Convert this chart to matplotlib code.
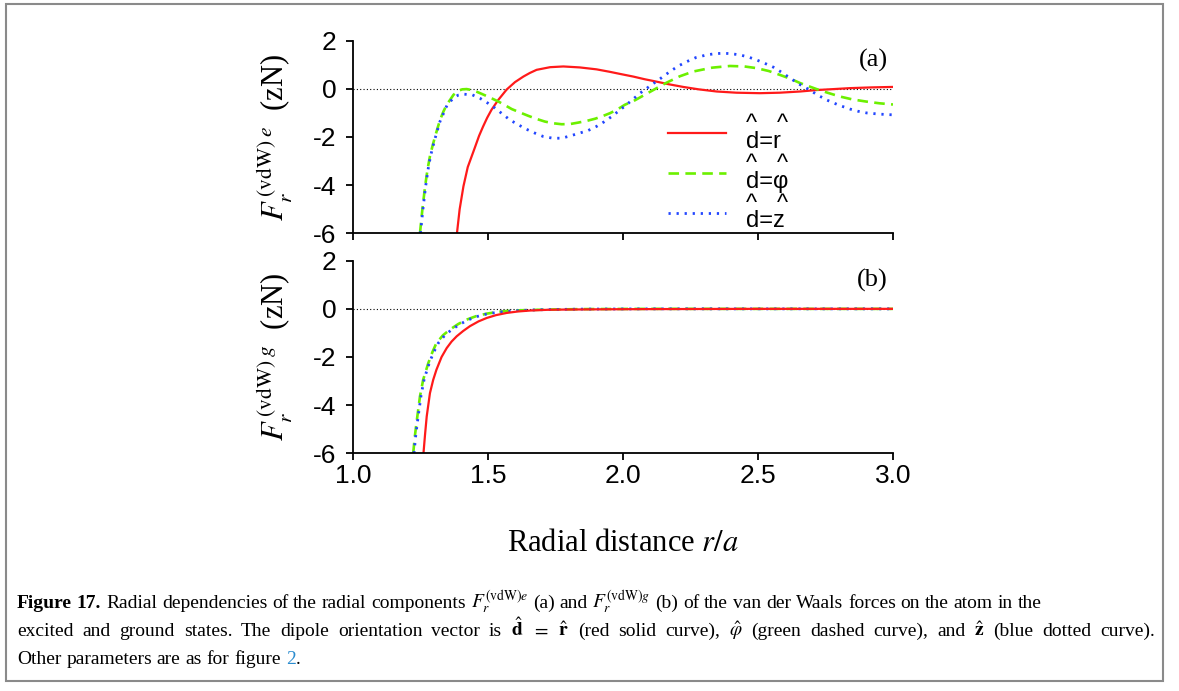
import matplotlib
matplotlib.use('Agg')
import matplotlib.pyplot as plt
from matplotlib.patches import Rectangle

plt.rcParams['mathtext.fontset'] = 'stix'
plt.rcParams['axes.unicode_minus'] = False

# ---- data (r/a, force in zN) ----
# panel (a): excited state
xe_r = [1.385, 1.395, 1.409, 1.425, 1.451, 1.467, 1.482, 1.497, 1.513, 1.538, 1.569, 1.60,
        1.631, 1.655, 1.68, 1.73, 1.779, 1.84, 1.902, 1.95, 1.989, 2.038, 2.08, 2.124, 2.17,
        2.223, 2.28, 2.347, 2.42, 2.507, 2.58, 2.656, 2.717, 2.78, 2.841, 2.92, 3.0]
ye_r = [-6.0, -5.0, -4.05, -3.25, -2.45, -1.95, -1.56, -1.2, -0.87, -0.46, -0.03, 0.28,
        0.51, 0.66, 0.79, 0.9, 0.93, 0.89, 0.81, 0.71, 0.62, 0.51, 0.4, 0.30, 0.19,
        0.08, -0.02, -0.11, -0.16, -0.18, -0.16, -0.11, -0.05, -0.01, 0.03, 0.06, 0.08]

xe_phi = [1.248, 1.257, 1.267, 1.276, 1.285, 1.295, 1.304, 1.322, 1.335, 1.347, 1.36, 1.372,
          1.39, 1.405, 1.421, 1.44, 1.458, 1.477, 1.507, 1.539, 1.563, 1.588, 1.618, 1.649,
          1.68, 1.711, 1.742, 1.773, 1.805, 1.835, 1.866, 1.897, 1.925, 1.952, 1.98, 2.007,
          2.04, 2.08, 2.12, 2.162, 2.21, 2.26, 2.33, 2.396, 2.45, 2.495, 2.54, 2.581, 2.62,
          2.656, 2.69, 2.717, 2.76, 2.804, 2.85, 2.902, 2.95, 3.0]
ye_phi = [-6.0, -5.0, -4.05, -3.35, -2.8, -2.35, -1.98, -1.3, -0.94, -0.66, -0.45, -0.25,
          -0.08, -0.02, -0.01, -0.05, -0.12, -0.21, -0.36, -0.53, -0.68, -0.84, -0.98, -1.12,
          -1.25, -1.36, -1.43, -1.47, -1.46, -1.4, -1.33, -1.24, -1.13, -1.01, -0.85, -0.66,
          -0.5, -0.25, 0.0, 0.26, 0.52, 0.72, 0.88, 0.95, 0.93, 0.86, 0.74, 0.58, 0.42,
          0.24, 0.1, -0.01, -0.17, -0.32, -0.44, -0.53, -0.6, -0.65]

xe_z = [1.250, 1.259, 1.269, 1.278, 1.287, 1.297, 1.306, 1.322, 1.349, 1.374, 1.39, 1.409,
        1.442, 1.47, 1.499, 1.526, 1.553, 1.581, 1.612, 1.641, 1.674, 1.705, 1.74, 1.773,
        1.806, 1.838, 1.869, 1.902, 1.93, 1.958, 1.985, 2.01, 2.035, 2.063, 2.1, 2.14,
        2.174, 2.205, 2.236, 2.27, 2.31, 2.34, 2.372, 2.40, 2.433, 2.465, 2.495, 2.525,
        2.557, 2.59, 2.625, 2.655, 2.686, 2.72, 2.754, 2.8, 2.841, 2.87, 2.902, 2.95, 3.0]
ye_z = [-6.0, -5.0, -4.05, -3.35, -2.8, -2.35, -1.98, -1.36, -0.66, -0.36, -0.26, -0.22,
        -0.25, -0.39, -0.59, -0.8, -1.04, -1.29, -1.49, -1.67, -1.84, -1.98, -2.05, -2.05,
        -1.95, -1.84, -1.74, -1.56, -1.37, -1.15, -0.91, -0.69, -0.45, -0.18, 0.12, 0.44,
        0.72, 0.95, 1.13, 1.3, 1.41, 1.46, 1.48, 1.46, 1.41, 1.32, 1.2, 1.06,
        0.9, 0.67, 0.4, 0.18, -0.01, -0.25, -0.46, -0.68, -0.84, -0.93, -1.0, -1.05, -1.08]

# panel (b): ground state
xg_r = [1.261, 1.267, 1.273, 1.285, 1.297, 1.309, 1.328, 1.347, 1.365, 1.384, 1.408, 1.433,
        1.465, 1.495, 1.53, 1.569, 1.61, 1.656, 1.72, 1.78, 1.9, 2.1, 2.5, 3.0]
yg_r = [-6.0, -5.2, -4.47, -3.5, -2.95, -2.53, -2.0, -1.63, -1.36, -1.14, -0.92, -0.72,
        -0.52, -0.38, -0.26, -0.17, -0.11, -0.07, -0.04, -0.03, -0.02, -0.01, 0.0, 0.0]

xg_phi = [1.223, 1.229, 1.235, 1.248, 1.26, 1.279, 1.294, 1.309, 1.333, 1.359, 1.39, 1.42,
          1.457, 1.495, 1.54, 1.593, 1.65, 1.717, 1.85, 2.1, 3.0]
yg_phi = [-6.0, -5.3, -4.75, -3.64, -2.94, -2.25, -1.8, -1.42, -1.1, -0.86, -0.63, -0.45,
          -0.3, -0.2, -0.12, -0.07, -0.05, -0.03, -0.01, 0.0, 0.0]

xg_z = [1.226, 1.232, 1.238, 1.252, 1.264, 1.284, 1.3, 1.316, 1.34, 1.366, 1.396, 1.426,
        1.462, 1.5, 1.545, 1.6, 1.66, 1.72, 1.85, 2.1, 3.0]
yg_z = [-6.0, -5.3, -4.75, -3.6, -2.9, -2.2, -1.78, -1.42, -1.1, -0.86, -0.64, -0.46,
        -0.31, -0.2, -0.13, -0.08, -0.05, -0.03, -0.01, 0.0, 0.0]

x_ticks = [1.0, 1.5, 2.0, 2.5, 3.0]
y_ticks = [2, 0, -2, -4, -6]
legend_labels = ['^   ^\nd=r', '^   ^\nd=\u03c6', '^   ^\nd=z']

W, H = 1179, 691
fig = plt.figure(figsize=(W / 100, H / 100), dpi=100)


def px_box(l, t, r, b):
    return [l / W, 1 - b / H, (r - l) / W, (b - t) / H]


ax1 = fig.add_axes(px_box(353, 40.7, 893, 233.3))
ax2 = fig.add_axes(px_box(353, 260.7, 893, 453.3))

red = dict(color='#ff1a1a', lw=1.6, ls='-')
green = dict(color='#6cf000', lw=1.9, ls=(0, (4, 2.4)))
blue = dict(color='#2246ff', lw=2.0, ls=(0, (0.8, 2.1)))

for ax in (ax1, ax2):
    ax.axhline(0, color='k', lw=0.8, ls=(0, (1, 2)))
    ax.set_xlim(1, 3)
    ax.set_ylim(-6, 2)
    ax.set_xticks(x_ticks)
    ax.set_yticks(y_ticks)
    ax.set_yticklabels([str(v) for v in y_ticks])
    for s in ('top', 'right'):
        ax.spines[s].set_visible(False)
    for s in ('left', 'bottom'):
        ax.spines[s].set_linewidth(1.3)
    ax.tick_params(direction='out', length=5, width=1.3, labelsize=19, pad=3)
    ax.tick_params(axis='y', pad=7)
    for lab in ax.get_xticklabels() + ax.get_yticklabels():
        lab.set_family('Liberation Sans')

ax1.tick_params(axis='x', labelbottom=False)
ax2.set_xticklabels(['1.0', '1.5', '2.0', '2.5', '3.0'])

lr, = ax1.plot(xe_r, ye_r, **red)
lg, = ax1.plot(xe_phi, ye_phi, **green)
lb, = ax1.plot(xe_z, ye_z, **blue)
ax2.plot(xg_phi, yg_phi, **green)
ax2.plot(xg_z, yg_z, **blue)
ax2.plot(xg_r, yg_r, **red)

leg = ax1.legend([lr, lg, lb], legend_labels, loc='upper left', bbox_to_anchor=(0.583, 0.624),
                 frameon=False, prop={'family': 'Liberation Sans', 'size': 17},
                 handlelength=2.45, handletextpad=0.85, labelspacing=0.0,
                 borderaxespad=0, borderpad=0)
for t in leg.get_texts():
    t.set_linespacing(0.75)

serif = 'Liberation Serif'
ax1.text(0.99, 0.90, '(a)', transform=ax1.transAxes, ha='right', va='center',
         fontsize=19, family=serif)
ax2.text(0.99, 0.90, '(b)', transform=ax2.transAxes, ha='right', va='center',
         fontsize=19, family=serif)

ax1.set_ylabel(r'$F_r^{\,(\mathrm{vdW})\;e}$  (zN)', fontsize=22, family=serif)
ax2.set_ylabel(r'$F_r^{\,(\mathrm{vdW})\;g}$  (zN)', fontsize=22, family=serif)
ax1.yaxis.set_label_coords(-0.11, 0.5)
ax2.yaxis.set_label_coords(-0.11, 0.5)

ax2.set_xlabel('Radial distance $r/a$', fontsize=22, family=serif)
ax2.xaxis.set_label_coords(0.5, -0.395)

# frame around the whole figure + caption
fig.add_artist(Rectangle((6 / W, 1 - 681 / H), (1163 - 6) / W, (681 - 4) / H,
                         transform=fig.transFigure, fill=False, ec='#8a8a8a', lw=1.5))

renderer = fig.canvas.get_renderer()
cap_size = 14.0
space = cap_size * 0.25 * 100 / 72


def caption_line(y_px, pieces, x_end=None):
    # pieces: (text, props, glue-to-previous); plain text is split into words
    tokens = []
    for s, kw, glue in pieces:
        words = [s] if s.startswith('$') else s.split()
        for i, w in enumerate(words):
            tokens.append((w, kw, glue and i == 0))
    texts, widths = [], []
    for w, kw, glue in tokens:
        t = fig.text(0, 1 - y_px / H, w, va='baseline', ha='left',
                     fontsize=cap_size, family=serif, **kw)
        texts.append(t)
        widths.append(t.get_window_extent(renderer).width)
    n_gaps = sum(1 for tok in tokens[1:] if not tok[2])
    gap = space
    if x_end is not None:
        gap = (x_end - 17 - sum(widths)) / n_gaps
    x = 17
    for k, (t, w) in enumerate(zip(texts, widths)):
        if k > 0:
            x += 0.5 if tokens[k][2] else gap
        t.set_x(x / W)
        x += w


caption_line(608, [
    ('Figure 17.', {'weight': 'bold'}, False),
    ('Radial dependencies of the radial components', {}, False),
    (r'$F_r^{(\mathrm{vdW})e}$', {}, False),
    ('(a) and', {}, False),
    (r'$F_r^{(\mathrm{vdW})g}$', {}, False),
    ('(b) of the van der Waals forces on the atom in the', {}, False),
])
caption_line(636, [
    ('excited and ground states. The dipole orientation vector is', {}, False),
    (r'$\hat{\mathbf{d}}$', {}, False),
    (r'$=$', {}, False),
    (r'$\hat{\mathbf{r}}$', {}, False),
    ('(red solid curve),', {}, False),
    (r'$\hat{\varphi}$', {}, False),
    ('(green dashed curve), and', {}, False),
    (r'$\hat{\mathbf{z}}$', {}, False),
    ('(blue dotted curve).', {}, False),
], x_end=1155)
caption_line(664, [
    ('Other parameters are as for figure', {}, False),
    ('2', {'color': '#2a8ccf'}, False),
    ('.', {}, True),
])

fig.savefig('out.png', dpi=100)
